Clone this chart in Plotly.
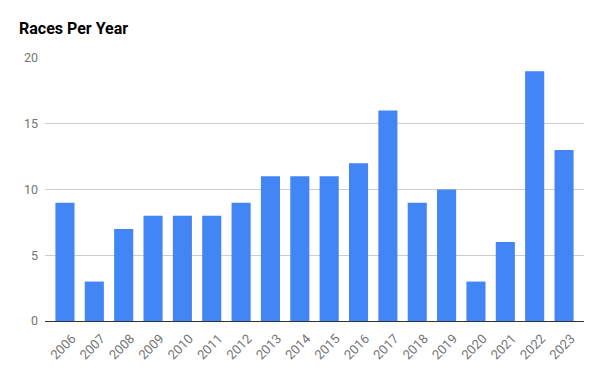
import plotly.graph_objects as go

years = ["2006", "2007", "2008", "2009", "2010", "2011", "2012", "2013", "2014",
         "2015", "2016", "2017", "2018", "2019", "2020", "2021", "2022", "2023"]
races = [9, 3, 7, 8, 8, 8, 9, 11, 11, 11, 12, 16, 9, 10, 3, 6, 19, 13]
y_ticks = [0, 5, 10, 15, 20]

fig = go.Figure(go.Bar(x=years, y=races, marker_color="#4285F4", marker_line_width=0,
                       hoverinfo="skip"))

fig.update_layout(
    width=602, height=371,
    margin=dict(l=45, r=18, t=58, b=50, autoexpand=False),
    paper_bgcolor="white", plot_bgcolor="white",
    bargap=0.35,
    showlegend=False,
    title=dict(text="<b>Races Per Year</b>", xref="container", x=19/602, xanchor="left",
               yref="container", y=1-28/371, yanchor="middle", pad=dict(l=0, r=0, t=0, b=0),
               font=dict(family="Roboto", size=16, color="#000000")),
    font=dict(family="Roboto", size=12, color="#757575"),
)
fig.update_xaxes(type="category", tickangle=-45, showgrid=False, ticks="", automargin=False,
                 range=[-0.68, len(years) - 1 + 0.68],
                 showline=True, linecolor="#333333", linewidth=1,
                 ticklabelstandoff=4, ticklabelshift=7,
                 tickfont=dict(family="Roboto", size=13, color="#757575"))
fig.update_yaxes(range=[0, 20], tickvals=y_ticks, showgrid=True, gridcolor="#cccccc",
                 zeroline=True, zerolinecolor="#333333", zerolinewidth=1, automargin=False,
                 ticks="", ticklabelstandoff=6,
                 tickfont=dict(family="Roboto", size=12.5, color="#757575"))

fig.write_html("out.html", config={"displayModeBar": False},
               post_script="document.body.style.margin='0';document.body.style.overflow='hidden';")
